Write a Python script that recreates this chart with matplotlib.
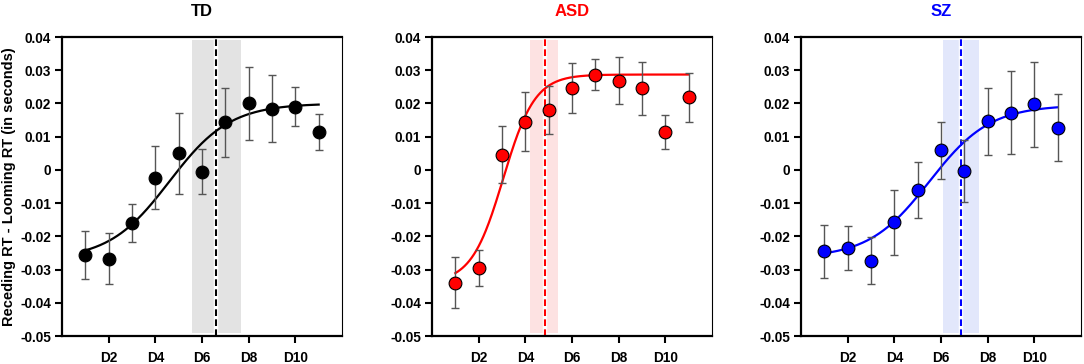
import numpy as np
import matplotlib
matplotlib.use("Agg")
import matplotlib.pyplot as plt

plt.rcParams['font.family'] = ['Liberation Sans', 'DejaVu Sans']
plt.rcParams['font.weight'] = 'bold'

# ---------------- data ----------------
distances = np.arange(1, 12)                    # D1 .. D11
tick_positions = [2, 4, 6, 8, 10]
tick_labels = ['D2', 'D4', 'D6', 'D8', 'D10']
y_ticks = [0.04, 0.03, 0.02, 0.01, 0, -0.01, -0.02, -0.03, -0.04, -0.05]
y_tick_labels = ['0.04', '0.03', '0.02', '0.01', '0', '-0.01', '-0.02', '-0.03', '-0.04', '-0.05']

groups = ['TD', 'ASD', 'SZ']

td_mean = [-0.0255, -0.0267, -0.0160, -0.0023, 0.0050, -0.0005, 0.0143, 0.0200, 0.0184, 0.0190, 0.0114]
td_err = [0.0072, 0.0077, 0.0058, 0.0095, 0.0122, 0.0068, 0.0104, 0.0109, 0.0101, 0.0058, 0.0054]

asd_mean = [-0.0340, -0.0294, 0.0046, 0.0145, 0.0180, 0.0246, 0.0286, 0.0268, 0.0245, 0.0115, 0.0218]
asd_err = [0.0077, 0.0054, 0.0085, 0.0088, 0.0073, 0.0075, 0.0047, 0.0071, 0.0080, 0.0051, 0.0075]

sz_mean = [-0.0245, -0.0235, -0.0273, -0.0158, -0.0060, 0.0059, -0.0003, 0.0146, 0.0172, 0.0197, 0.0127]
sz_err = [0.0080, 0.0067, 0.0070, 0.0097, 0.0085, 0.0086, 0.0094, 0.0100, 0.0125, 0.0128, 0.0100]

# fitted sigmoid parameters: lower, upper, midpoint, slope scale
td_fit = (-0.0270, 0.0200, 4.6, 1.30)
asd_fit = (-0.0340, 0.0287, 3.05, 0.68)
sz_fit = (-0.0265, 0.0195, 5.5, 1.30)

# PSE (dashed line) and its confidence band
td_pse, td_band = 6.62, (5.56, 7.65)
asd_pse, asd_band = 4.83, (4.19, 5.41)
sz_pse, sz_band = 6.84, (6.07, 7.61)

colors = {'TD': '#000000', 'ASD': '#ff0000', 'SZ': '#0000ff'}
band_colors = {'TD': '#e3e3e3', 'ASD': '#fde2e2', 'SZ': '#e2e7fb'}

means = {'TD': td_mean, 'ASD': asd_mean, 'SZ': sz_mean}
errs = {'TD': td_err, 'ASD': asd_err, 'SZ': sz_err}
fits = {'TD': td_fit, 'ASD': asd_fit, 'SZ': sz_fit}
pses = {'TD': td_pse, 'ASD': asd_pse, 'SZ': sz_pse}
bands = {'TD': td_band, 'ASD': asd_band, 'SZ': sz_band}

# ---------------- figure ----------------
W, H = 1084, 364
fig = plt.figure(figsize=(W / 100, H / 100), dpi=100)

lefts = [62, 432, 801]
ax_w = 280
top_px, bot_px = 37, 336

for g, lpx in zip(groups, lefts):
    ax = fig.add_axes([lpx / W, 1 - bot_px / H, ax_w / W, (bot_px - top_px) / H])
    c = colors[g]
    ax.set_xlim(0, 12)
    ax.set_ylim(-0.05, 0.04)

    b0, b1 = bands[g]
    ax.axvspan(b0, b1, ymin=0.009, ymax=0.991, color=band_colors[g], lw=0, zorder=0)
    ax.axvline(pses[g], color='white', lw=3.2, zorder=1)
    ax.axvline(pses[g], color=c, lw=1.5, ls=(0, (3.2, 1.6)), zorder=2)

    lo, hi, x0, s = fits[g]
    xs = np.linspace(1, 11, 300)
    ys = lo + (hi - lo) / (1 + np.exp(-(xs - x0) / s))
    ax.plot(xs, ys, color=c, lw=1.6, zorder=3)

    ax.errorbar(distances, means[g], yerr=errs[g], fmt='none', ecolor='#555555',
                elinewidth=1.0, capsize=3, capthick=1.0, zorder=4)
    ax.plot(distances, means[g], 'o', ms=9.2, mfc=c, mec='black', mew=0.8, zorder=5)

    ax.set_xticks(tick_positions)
    ax.set_xticklabels(tick_labels)
    ax.set_yticks(y_ticks)
    ax.set_yticklabels(y_tick_labels)
    ax.tick_params(axis='both', direction='out', length=5, width=1.5, labelsize=9.8, pad=3)
    ax.tick_params(axis='x', pad=6)
    for lab in ax.get_xticklabels() + ax.get_yticklabels():
        lab.set_fontweight('bold')

    for side in ['left', 'top', 'bottom']:
        ax.spines[side].set_linewidth(1.6)
    ax.spines['right'].set_linewidth(0.8)

    ax.set_title(g, color=c, fontsize=12, fontweight='bold', pad=15)
    if g == 'TD':
        ax.set_ylabel('Receding RT - Looming RT (in seconds)', fontsize=10.5, fontweight='bold', labelpad=3)

fig.savefig('out.png', dpi=100)
